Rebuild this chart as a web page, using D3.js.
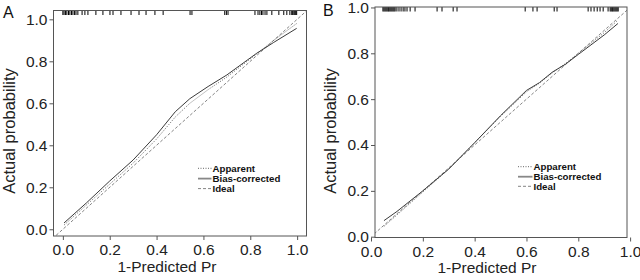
<!DOCTYPE html>
<html><head><meta charset="utf-8">
<script src="https://cdn.jsdelivr.net/npm/d3@7"></script>
<style>
body{margin:0;background:#fff}
svg{display:block}
text{font-family:"Liberation Sans",Arial,Helvetica,sans-serif}
</style>
</head><body>
<svg id="chart" width="640" height="280"></svg>
<script>
// ---------- data ----------
const tickValues = [0, 0.2, 0.4, 0.6, 0.8, 1.0];
const tickLabels = ["0.0", "0.2", "0.4", "0.6", "0.8", "1.0"];
const legendLabels = ["Apparent", "Bias-corrected", "Ideal"];
const xTitle = "1-Predicted Pr";
const yTitle = "Actual probability";

// Panel A
const aPredicted = [0.005, 0.1, 0.2, 0.3, 0.4, 0.48, 0.542, 0.62, 0.7, 0.827, 0.9, 0.998];
const aApparent  = [0.02, 0.115, 0.215, 0.315, 0.43, 0.535, 0.6, 0.665, 0.725, 0.835, 0.9, 0.98];
const aBias      = [0.03, 0.125, 0.23, 0.33, 0.45, 0.56, 0.622, 0.68, 0.735, 0.838, 0.89, 0.957];
const aRug = [0.0,0.005,0.011,0.017,0.024,0.03,0.037,0.043,0.05,0.056,0.064,0.082,0.094,0.107,0.141,0.171,0.201,0.214,0.248,0.291,0.325,0.355,0.393,0.428,0.543,0.551,0.691,0.698,0.705,0.82,0.833,0.841,0.848,0.854,0.863,0.871,0.892,0.922,0.943,0.956,0.969,0.977,0.981,0.986,0.99,0.994,0.998];

// Panel B
const bPredicted = [0.05, 0.1, 0.2, 0.3, 0.4, 0.5, 0.6, 0.65, 0.7, 0.75, 0.8, 0.9, 0.953];
const bApparent  = [0.045, 0.095, 0.195, 0.295, 0.41, 0.525, 0.632, 0.67, 0.715, 0.755, 0.8, 0.89, 0.945];
const bBias      = [0.07, 0.11, 0.2, 0.295, 0.41, 0.528, 0.638, 0.672, 0.718, 0.752, 0.795, 0.88, 0.93];
const bRug = [0.046,0.05,0.054,0.058,0.062,0.066,0.069,0.073,0.077,0.081,0.085,0.089,0.093,0.1,0.108,0.116,0.124,0.131,0.139,0.151,0.17,0.255,0.274,0.317,0.332,0.595,0.625,0.641,0.707,0.718,0.838,0.849,0.861,0.873,0.884,0.896,0.915,0.923,0.927,0.931,0.934,0.938,0.942,0.946,0.95,0.954];

// ---------- layout ----------
const panels = [
  {letter:"A", pred:aPredicted, app:aApparent, bias:aBias, rug:aRug,
   xLim:[-0.04, 1.04], yLim:[-0.032, 1.042],
   box:{l:53.5, r:306.5, t:10.5, b:236},
   letterPos:[3,18], xTitlePos:[167,272], yTitlePos:[15,131],
   legend:{x0:198, x1:211.5, tx:212.5, y:[168.3,178.6,188.6]}},
  {letter:"B", pred:bPredicted, app:bApparent, bias:bBias, rug:bRug,
   xLim:[0.0154, 0.988], yLim:[-0.0035, 1.002],
   box:{l:375, r:627, t:7, b:237.5},
   letterPos:[323,16], xTitlePos:[487,273], yTitlePos:[336,131],
   legend:{x0:518, x1:532.5, tx:533.5, y:[166.7,176.7,186.3]}}
];

const svg = d3.select("#chart");
const textColor = "#222";
const axisColor = "#555";

panels.forEach((p, pi) => {
  const g = svg.append("g");
  const x = d3.scaleLinear().domain(p.xLim).range([p.box.l, p.box.r]);
  const y = d3.scaleLinear().domain(p.yLim).range([p.box.b, p.box.t]);

  const clipId = "clip" + pi;
  svg.append("defs").append("clipPath").attr("id", clipId)
    .append("rect").attr("x", p.box.l).attr("y", p.box.t)
    .attr("width", p.box.r - p.box.l).attr("height", p.box.b - p.box.t);

  const plot = g.append("g").attr("clip-path", `url(#${clipId})`);

  // ideal line (abline 0,1)
  const lo = Math.min(p.xLim[0], p.yLim[0]) - 0.1;
  const hi = Math.max(p.xLim[1], p.yLim[1]) + 0.1;
  plot.append("line")
    .attr("x1", x(lo)).attr("y1", y(lo)).attr("x2", x(hi)).attr("y2", y(hi))
    .attr("stroke", "#777").attr("stroke-width", 0.9).attr("stroke-dasharray", "3,2");

  const line = d3.line().x(d => x(d[0])).y(d => y(d[1]));
  // apparent (dotted)
  plot.append("path").datum(p.pred.map((v, i) => [v, p.app[i]]))
    .attr("d", line).attr("fill", "none")
    .attr("stroke", "#555").attr("stroke-width", 0.9).attr("stroke-dasharray", "1,1.5");
  // bias-corrected (solid)
  plot.append("path").datum(p.pred.map((v, i) => [v, p.bias[i]]))
    .attr("d", line).attr("fill", "none")
    .attr("stroke", "#3a3a3a").attr("stroke-width", 1);

  // rug at top
  plot.selectAll("line.rug").data(p.rug).enter().append("line")
    .attr("class", "rug")
    .attr("x1", d => x(d)).attr("x2", d => x(d))
    .attr("y1", p.box.t).attr("y2", p.box.t + 4.5)
    .attr("stroke", "#000").attr("stroke-width", 1);

  // box
  g.append("rect")
    .attr("x", p.box.l).attr("y", p.box.t)
    .attr("width", p.box.r - p.box.l).attr("height", p.box.b - p.box.t)
    .attr("fill", "none").attr("stroke", axisColor).attr("stroke-width", 1);

  // axes
  const fmt = d => tickLabels[tickValues.indexOf(d)];
  const yAxis = g.append("g").attr("transform", `translate(${p.box.l},0)`)
    .call(d3.axisLeft(y).tickValues(tickValues).tickFormat(fmt).tickSize(4).tickPadding(2));
  const xAxis = g.append("g").attr("transform", `translate(0,${p.box.b})`)
    .call(d3.axisBottom(x).tickValues(tickValues).tickFormat(fmt).tickSize(4).tickPadding(4));
  [yAxis, xAxis].forEach(ax => {
    ax.select(".domain").remove();
    ax.selectAll("line").attr("stroke", axisColor);
    ax.selectAll("text").attr("fill", textColor)
      .style("font-size", "15.5px")
      .style("font-family", '"Liberation Sans",Arial,sans-serif');
  });

  // titles
  g.append("text").attr("x", p.xTitlePos[0]).attr("y", p.xTitlePos[1])
    .attr("text-anchor", "middle").attr("fill", textColor)
    .style("font-size", "15.5px").text(xTitle);
  g.append("text")
    .attr("transform", `translate(${p.yTitlePos[0]},${p.yTitlePos[1]}) rotate(-90)`)
    .attr("text-anchor", "middle").attr("fill", textColor)
    .style("font-size", "16.5px").text(yTitle);

  // panel letter
  g.append("text").attr("x", p.letterPos[0]).attr("y", p.letterPos[1])
    .attr("fill", "#111").style("font-size", "16px").text(p.letter);

  // legend
  const dashes = ["1,1.5", null, "3,2"];
  const lw = [0.9, 1.8, 0.9];
  const lc = ["#555", "#888", "#777"];
  legendLabels.forEach((lab, i) => {
    const yy = p.legend.y[i];
    const ln = g.append("line")
      .attr("x1", p.legend.x0).attr("x2", p.legend.x1)
      .attr("y1", yy).attr("y2", yy)
      .attr("stroke", lc[i]).attr("stroke-width", lw[i]);
    if (dashes[i]) ln.attr("stroke-dasharray", dashes[i]);
    g.append("text").attr("x", p.legend.tx).attr("y", yy).attr("dy", "0.35em")
      .attr("fill", "#111").style("font-size", "9.7px").style("font-weight", "bold")
      .text(lab);
  });
});
</script>
</body></html>
